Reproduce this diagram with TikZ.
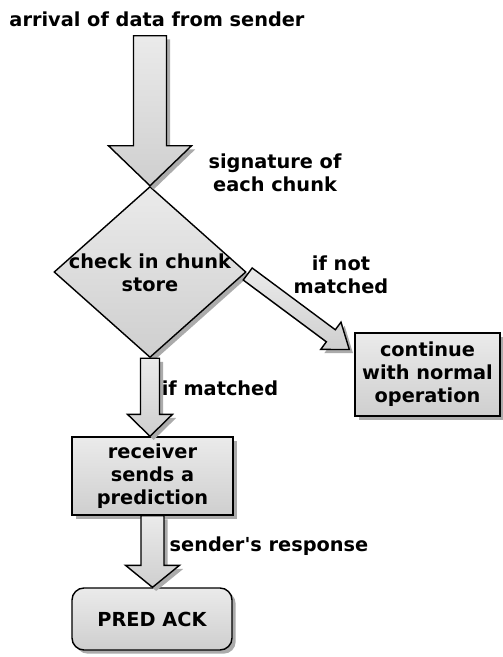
\documentclass[tikz,border=0pt]{standalone}
\usepackage{fontspec}
\setmainfont{DejaVu Sans}[Ligatures=TeXOff]
\usetikzlibrary{shapes.geometric, calc, shadows}
\tikzset{
    lbl/.style={font=\fontsize{16.5}{19.5}\selectfont\bfseries, align=center,
                inner sep=0pt},
    shade/.style={top color=black!8, bottom color=black!19},
    shadowed/.style={drop shadow={shadow xshift=0.11cm, shadow yshift=-0.11cm,
                     fill=black!33, opacity=1}},
    stepbox/.style={rectangle, draw, line width=1.2pt, shade, shadowed, lbl},
    endbox/.style={stepbox, rounded corners=0.36cm},
    decision/.style={diamond, draw, line width=1.2pt, shade, shadowed,
                     inner sep=0pt},
    fatarrow/.style={draw, line width=1.2pt, line join=miter, shade, shadowed},
}
% block arrow: start, tip, shaft half width, head half width, head length
\newcommand{\blockarrow}[5]{%
    \coordinate (hb) at ($(#2)!#5!(#1)$);
    \path[fatarrow] ($(#1)!#3!90:(#2)$) -- ($(hb)!#3!-90:(#1)$)
        -- ($(hb)!#4!-90:(#1)$) -- (#2) -- ($(hb)!#4!90:(#1)$)
        -- ($(hb)!#3!90:(#1)$) -- ($(#1)!#3!-90:(#2)$) -- cycle;
}

\begin{document}
\begin{tikzpicture}[x=0.03cm, y=-0.03cm]
    \useasboundingbox (0,0) rectangle (502,657);
    % input
    \node[lbl] (title) at (157,19) {arrival of data from sender};
    % lookup
    \node[decision, minimum width=5.76cm, minimum height=5.13cm] (check) at (150,272) {};
    \node[stepbox, minimum width=4.35cm, minimum height=2.49cm] (cont) at (427.5,374.5)
        {continue\\with normal\\operation};
    \node[stepbox, minimum width=4.83cm, minimum height=2.34cm] (recv) at (152.5,476)
        {receiver\\sends a\\prediction};
    \node[endbox, minimum width=4.8cm, minimum height=1.86cm] (ack) at (152,619) {PRED ACK};
    % arrows
    \blockarrow{$(title.south -| check.north)+(0,9)$}{check.north}{0.495cm}{1.245cm}{1.2cm}
    \blockarrow{$(check.east)+(1,2)$}{$(cont.west)+(-5,-25)$}{0.225cm}{0.51cm}{0.69cm}
    \blockarrow{check.south}{check.south |- recv.north}{0.285cm}{0.675cm}{0.66cm}
    \blockarrow{recv.south}{recv.south |- ack.north}{0.345cm}{0.81cm}{0.66cm}
    % labels
    \node[lbl] (chktext) at (150,273) {check in chunk\\store};
    \node[lbl] (sig) at (275,173) {signature of\\each chunk};
    \node[lbl] (nomatch) at (341,275) {if not\\matched};
    \node[lbl] (match) at (220,388) {if matched};
    \node[lbl] (resp) at (269,546) {sender's response};
\end{tikzpicture}
\end{document}
